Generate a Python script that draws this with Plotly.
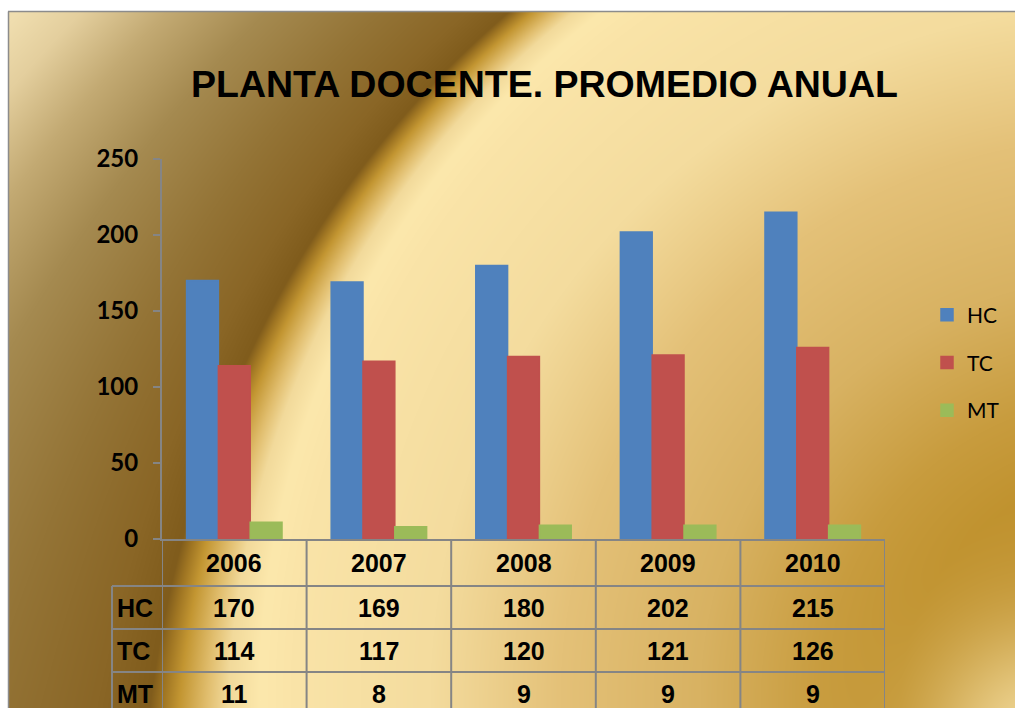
import base64, struct, zlib
import numpy as np
import plotly.graph_objects as go

# ---------------- data ----------------
years = ["2006", "2007", "2008", "2009", "2010"]
hc = [170, 169, 180, 202, 215]
tc = [114, 117, 120, 121, 126]
mt = [11, 8, 9, 9, 9]
series_names = ["HC", "TC", "MT"]
series_values = [hc, tc, mt]
series_colors = ["#4F81BD", "#C0504D", "#9BBB59"]
y_ticks = [0, 50, 100, 150, 200, 250]

W, H = 1015, 708
L, T, PW, PH = 162, 159, 723, 380
R_ = W - L - PW
B = H - T - PH


def px(X):                   # screen x -> paper x
    return (X - L) / PW


def py(Y):                   # screen y -> paper y
    return (T + PH - Y) / PH


# ---------------- gold background picture ----------------
def build_background():
    yy, xx = np.mgrid[0:H, 0:W].astype(float)
    cx, cy, rad = 1124.0, 700.0, 864.0
    r = np.hypot(xx - cx, yy - cy)
    s = r - rad
    f = 1.15 - 0.00076 * yy
    sp = s * f
    out_st = [0, 20, 33, 50, 60, 68, 100, 170, 270, 360, 440, 500]
    out_c = [(252, 232, 172), (242, 218, 155), (225, 190, 110), (195, 150, 50),
             (160, 118, 35), (128, 92, 28), (138, 102, 38), (148, 116, 54),
             (165, 138, 80), (195, 170, 115), (228, 207, 158), (240, 222, 175)]
    in_st = [0, 30, 170, 300, 440, 560, 640, 900]
    in_c = [(252, 232, 172), (250, 228, 168), (244, 220, 158), (228, 193, 120),
            (216, 178, 98), (200, 156, 62), (192, 146, 46), (195, 150, 55)]
    img = np.zeros((H, W, 3))
    for c in range(3):
        o = np.interp(sp, out_st, [k[c] for k in out_c])
        i = np.interp(-s, in_st, [k[c] for k in in_c])
        img[..., c] = np.where(s >= 0, o, i)
    d = np.hypot(xx - 1040, yy - 740)
    w = 0.9 * np.exp(-(d / 110.0) ** 2)
    blob = np.array([245, 222, 160])
    img = img * (1 - w[..., None]) + blob * w[..., None]
    img[(yy < 12) | (xx < 8)] = 255
    return np.clip(img, 0, 255).astype(np.uint8)


def png_uri(img):
    h, w, _ = img.shape
    flat = img.reshape(h, w * 3).astype(np.int16)
    sub = flat.copy()
    sub[:, 3:] = flat[:, 3:] - flat[:, :-3]
    raw = np.zeros((h, w * 3 + 1), np.uint8)
    raw[:, 0] = 1
    raw[:, 1:] = (sub % 256).astype(np.uint8)
    comp = zlib.compress(raw.tobytes(), 9)

    def chunk(t, dta):
        return struct.pack(">I", len(dta)) + t + dta + struct.pack(">I", zlib.crc32(t + dta) & 0xFFFFFFFF)

    png = (b"\x89PNG\r\n\x1a\n"
           + chunk(b"IHDR", struct.pack(">IIBBBBB", w, h, 8, 2, 0, 0, 0))
           + chunk(b"IDAT", comp) + chunk(b"IEND", b""))
    return "data:image/png;base64," + base64.b64encode(png).decode()


bg_uri = png_uri(build_background())

# ---------------- figure ----------------
fig = go.Figure()
for name, vals, col in zip(series_names, series_values, series_colors):
    fig.add_trace(go.Bar(x=years, y=vals, name=name, legendgroup=name,
                         marker=dict(color=col, line=dict(width=1.5, color=col))))

grid = "#858585"
shapes = []
# frame border
shapes.append(dict(type="line", xref="paper", yref="paper", x0=px(8), x1=px(W + 10),
                   y0=py(11.5), y1=py(11.5), line=dict(color="#8c8c8c", width=1.5)))
shapes.append(dict(type="line", xref="paper", yref="paper", x0=px(8.5), x1=px(8.5),
                   y0=py(11.5), y1=py(H + 10), line=dict(color="#8c8c8c", width=1.5)))
# table vertical lines at category boundaries
for k in range(len(years) + 1):
    shapes.append(dict(type="line", xref="x", yref="paper", x0=k - 0.5, x1=k - 0.5,
                       y0=0, y1=py(H + 10), line=dict(color=grid, width=2)))
# row label column left border
shapes.append(dict(type="line", xref="paper", yref="paper", x0=px(112), x1=px(112),
                   y0=py(586), y1=py(H + 10), line=dict(color=grid, width=2)))
row_tops = [586, 629, 672]
for Y in row_tops:
    shapes.append(dict(type="line", xref="paper", yref="paper", x0=px(112), x1=1,
                       y0=py(Y), y1=py(Y), line=dict(color=grid, width=2)))

annotations = []
annotations.append(dict(text="<b>PLANTA DOCENTE. PROMEDIO ANUAL</b>", xref="paper", yref="paper",
                        x=px(544.5), y=py(84), xanchor="center", yanchor="middle", showarrow=False,
                        font=dict(family="Liberation Sans, Arial", size=37.5, color="black")))
tfont = dict(family="Liberation Sans, Arial", size=25, color="black")
for i, yr in enumerate(years):
    annotations.append(dict(text=f"<b>{yr}</b>", xref="x", yref="paper", x=i, y=py(563),
                            xanchor="center", yanchor="middle", showarrow=False, font=tfont))
row_centers = [607.5, 650.5, 693.5]
for name, vals, Yc in zip(series_names, series_values, row_centers):
    annotations.append(dict(text=f"<b>{name}</b>", xref="paper", yref="paper", x=px(115), y=py(Yc),
                            xanchor="left", yanchor="middle", showarrow=False, font=tfont))
    for i, v in enumerate(vals):
        annotations.append(dict(text=f"<b>{v}</b>", xref="x", yref="paper", x=i, y=py(Yc),
                                xanchor="center", yanchor="middle", showarrow=False, font=tfont))

fig.update_layout(
    width=W, height=H,
    margin=dict(l=L, r=R_, t=T, b=B, autoexpand=False),
    paper_bgcolor="white",
    plot_bgcolor="rgba(0,0,0,0)",
    barmode="group", bargap=0.34, bargroupgap=0,
    showlegend=True,
    legend=dict(x=px(927), y=py(294.5), xanchor="left", yanchor="top",
                bgcolor="rgba(0,0,0,0)", traceorder="grouped", tracegroupgap=17.5,
                font=dict(family="Lato, Calibri, sans-serif", size=21, color="black")),
    xaxis=dict(type="category", range=[-0.5, 4.5], showticklabels=False, ticks="",
               showline=True, linecolor=grid, linewidth=2, showgrid=False, zeroline=False,
               fixedrange=True),
    yaxis=dict(range=[0, 250], tickvals=y_ticks, showline=True, linecolor=grid, linewidth=2,
               ticks="outside", ticklen=7, tickcolor=grid, tickwidth=2, showgrid=False,
               zeroline=False, ticklabelstandoff=10,
               tickfont=dict(family="Lato, Calibri, sans-serif", size=24, color="black", weight="bold")),
    images=[dict(source=bg_uri, xref="paper", yref="paper", x=px(0), y=py(0),
                 sizex=W / PW, sizey=H / PH, xanchor="left", yanchor="top",
                 sizing="stretch", layer="below")],
    shapes=shapes,
    annotations=annotations,
)

fig.write_html(
    "out.html",
    config={"displayModeBar": False},
    post_script=("document.body.style.margin='0px';"
                 "document.documentElement.style.overflow='hidden';"
                 "document.body.style.overflow='hidden';"),
)
